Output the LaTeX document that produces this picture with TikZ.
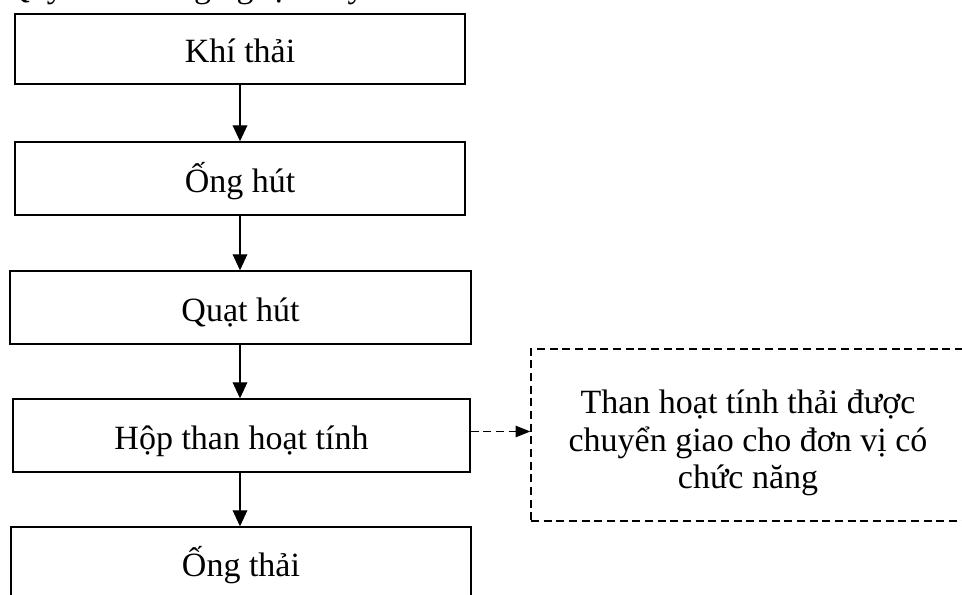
\documentclass[tikz,border=0pt]{standalone}
\usepackage{fontspec}
\setmainfont{Liberation Serif}
\usetikzlibrary{arrows.meta}
\begin{document}
\begin{tikzpicture}[x=0.75pt,y=-0.75pt,
  font=\fontsize{25.5}{28}\selectfont,
  stepbox/.style={draw, line width=1.1pt, inner sep=0pt,
    text height=23.5pt, text depth=3pt},
  flow/.style={line width=1pt, -{Triangle[length=12pt,width=11pt]}},
  dashflow/.style={line width=1pt, dash pattern=on 6pt off 3.5pt,
    -{Triangle[length=11pt,width=8.5pt]}},
  notebox/.style={draw, line width=1pt, dash pattern=on 6pt off 3.5pt,
    inner sep=0pt}
]
\useasboundingbox (0,0) rectangle (962,595);

% heading line above the chart
\node[anchor=base west, inner sep=0pt] (title) at (5,-2) {Quy trình công nghệ xử lý};

% main process chain
\node[stepbox, minimum width=337.5pt, minimum height=52.5pt]  (khi)  at (240,49)    {Khí thải};
\node[stepbox, minimum width=337.5pt, minimum height=54.75pt] (ong)  at (240,178.5) {Ống hút};
\node[stepbox, minimum width=345.75pt, minimum height=54.75pt](quat) at (240.5,307.5) {Quạt hút};
\node[stepbox, minimum width=342.75pt, minimum height=54.75pt](hop)  at (241.5,435.5) {Hộp than hoạt tính};
\node[stepbox, minimum width=345pt, minimum height=54pt]      (thai) at (241,563)   {Ống thải};

% side box for spent carbon
\node[notebox, minimum width=325.5pt, minimum height=129pt] (note) at (748,435) {};
\node[align=center, inner sep=0pt] (notetext) at (748,443)
  {Than hoạt tính thải được\\chuyển giao cho đơn vị có\\chức năng};

% connectors
\draw[flow] (khi.south -| 240,0)  -- (ong.north -| 240,0);
\draw[flow] (ong.south -| 240,0)  -- (quat.north -| 240,0);
\draw[flow] (quat.south -| 240,0) -- (hop.north -| 240,0);
\draw[flow] (hop.south -| 240,0)  -- (thai.north -| 240,0);
\draw[dashflow] ([yshift=3pt]hop.east) -- ([yshift=3pt]hop.east -| note.west);
\end{tikzpicture}
\end{document}
